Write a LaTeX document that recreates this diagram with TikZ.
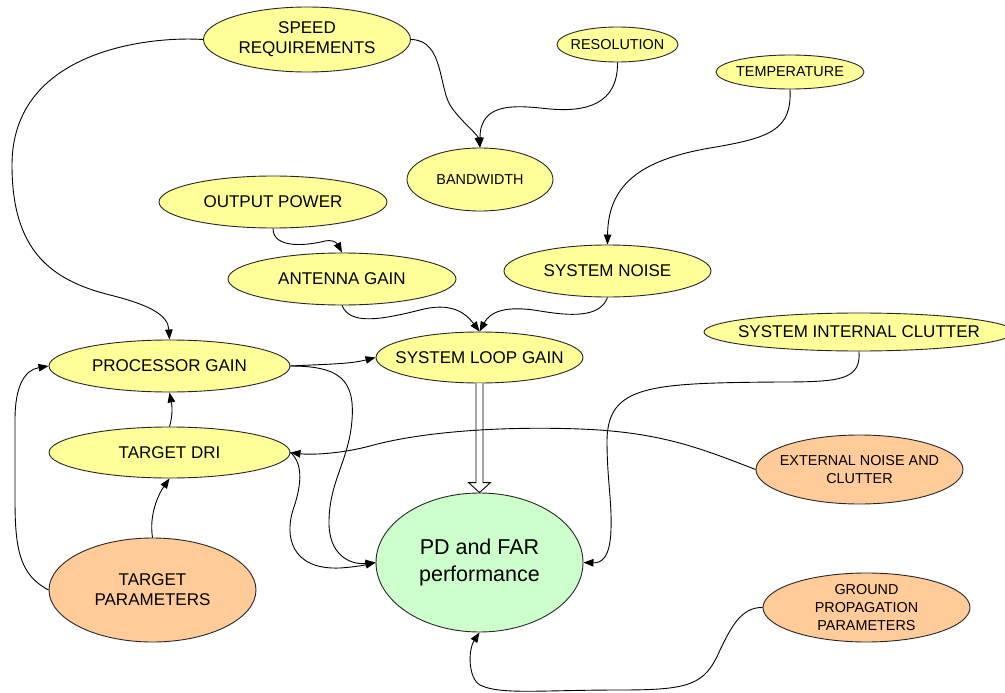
\documentclass[tikz,border=0pt]{standalone}
\usepackage{fontspec}
\setmainfont{Liberation Sans}
\usetikzlibrary{shapes.geometric,arrows.meta,calc}
\definecolor{ylw}{HTML}{FFFF99}
\definecolor{org}{HTML}{FFCC99}
\definecolor{grn}{HTML}{CCFFCC}
\newcommand\bubble[7]{%
  \node[bub, fill=#5, minimum width=#3, minimum height=#4] (#1) at (#2) {};
  \node[#6] (#1-t) at (#1.center) {#7};}
\tikzset{
  bub/.style={ellipse, draw=black!85, line width=0.9pt, inner sep=0pt},
  big/.style={font=\fontsize{17}{20}\selectfont, align=center, inner sep=0pt},
  sml/.style={font=\fontsize{14.4}{18}\selectfont, align=center, inner sep=0pt},
  huge/.style={font=\fontsize{21.5}{27}\selectfont, align=center, inner sep=0pt},
  link/.style={draw=black, line width=0.9pt, -{Triangle[length=10pt,width=7.5pt]}},
}
\begin{document}
\begin{tikzpicture}[x=1pt,y=-1pt]
\useasboundingbox (0,0) rectangle (1005,693);
\fill[white] (0,0) rectangle (1005,693);
% nodes
\bubble{speed}{307,39.5}{207pt}{65pt}{ylw}{big}{SPEED\\REQUIREMENTS}
\bubble{res}{617.5,44.5}{121pt}{35pt}{ylw}{sml}{RESOLUTION}
\bubble{temp}{790,72}{148pt}{34pt}{ylw}{sml}{TEMPERATURE}
\bubble{bw}{480,179.5}{146pt}{63pt}{ylw}{sml}{BANDWIDTH}
\bubble{outp}{273,202}{228pt}{52pt}{ylw}{big}{OUTPUT POWER}
\bubble{ant}{342,279}{228pt}{52pt}{ylw}{big}{ANTENNA GAIN}
\bubble{noise}{607.5,271}{207pt}{52pt}{ylw}{big}{SYSTEM NOISE}
\bubble{sic}{859,332}{310pt}{38pt}{ylw}{big}{SYSTEM INTERNAL CLUTTER}
\bubble{proc}{169.5,366}{241pt}{52pt}{ylw}{big}{PROCESSOR GAIN}
\bubble{loop}{479.5,357.5}{207pt}{51pt}{ylw}{big}{SYSTEM LOOP GAIN}
\bubble{dri}{169.5,452.5}{241pt}{51pt}{ylw}{big}{TARGET DRI}
\bubble{tpar}{152.5,590}{207pt}{104pt}{org}{big}{TARGET\\PARAMETERS}
\bubble{pd}{479.5,562.5}{207pt}{139pt}{grn}{huge}{PD and FAR\\performance}
\bubble{ext}{859.5,469.5}{207pt}{69pt}{org}{sml}{EXTERNAL NOISE AND\\CLUTTER}
\bubble{gnd}{866.5,607.5}{207pt}{69pt}{org}{sml}{GROUND\\PROPAGATION\\PARAMETERS}
% hollow double arrow
\draw[line width=0.9pt, fill=white] ($(loop.south)+(-3.5,0)$) -- ($(pd.north)+(-3.5,-10)$) -- ($(pd.north)+(-11,-10)$) -- (pd.north) -- ($(pd.north)+(11,-10)$) -- ($(pd.north)+(3.5,-10)$) -- ($(loop.south)+(3.5,0)$);
% connectors
\draw[link] (speed.west) .. controls (150,36) and (12,50) .. (12,165)
  .. controls (12,250) and (50,280) .. (110,295)
  .. controls (150,305) and (168,315) .. (proc.north);
\draw[link] (speed.east) .. controls (445,40) and (438,90) .. (452,108)
  .. controls (462,122) and (478,135) .. (bw.north);
\draw[link] (res.south) .. controls (618,105) and (585,112) .. (550,109)
  .. controls (520,106) and (480,100) .. (bw.north);
\draw[link] (temp.south) .. controls (792,130) and (770,138) .. (710,148)
  .. controls (640,160) and (608,185) .. (noise.north);
\draw[link] (outp.south) .. controls (273,250) and (310,245) .. (325,241)
  .. controls (335,239) and (338,245) .. (ant.north);
\draw[link] (ant.south) .. controls (350,325) and (380,320) .. (420,310)
  .. controls (450,302) and (465,312) .. (loop.north);
\draw[link] (noise.south) .. controls (600,318) and (570,316) .. (540,311)
  .. controls (505,305) and (490,312) .. (loop.north);
\draw[link] (proc.east) .. controls (330,364) and (350,364) .. (loop.west);
\draw[link] (proc.east) .. controls (340,366) and (355,380) .. (352,420)
  .. controls (349,460) and (330,480) .. (329,520)
  .. controls (328,555) and (350,565) .. (pd.west);
\draw[link] (dri.east) .. controls (305,465) and (300,490) .. (293,510)
  .. controls (285,535) and (290,570) .. (340,568)
  .. controls (355,567) and (365,565) .. (pd.west);
\draw[link] (ext.west) .. controls (700,448) and (660,432) .. (580,429)
  .. controls (500,426) and (420,432) .. (370,446)
  .. controls (340,454) and (310,455) .. (dri.east);
\draw[link] (sic.south) .. controls (861,380) and (840,382) .. (780,382)
  .. controls (650,383) and (608,385) .. (607,440)
  .. controls (607,480) and (612,500) .. (611,530)
  .. controls (610,560) and (600,563) .. (pd.east);
\draw[link] (gnd.west) .. controls (740,607) and (730,630) .. (720,650)
  .. controls (705,685) and (690,690) .. (620,690)
  .. controls (540,690) and (500,695) .. (480,685)
  .. controls (468,678) and (468,650) .. (pd.south);
\draw[link] (dri.north) .. controls (173,415) and (172,405) .. (proc.south);
\draw[link] (tpar.north) .. controls (149,515) and (158,495) .. (dri.south);
\draw[link] (tpar.west) .. controls (20,575) and (15,550) .. (15,500) -- (15,420)
  .. controls (15,385) and (25,370) .. (proc.west);
\end{tikzpicture}
\end{document}
